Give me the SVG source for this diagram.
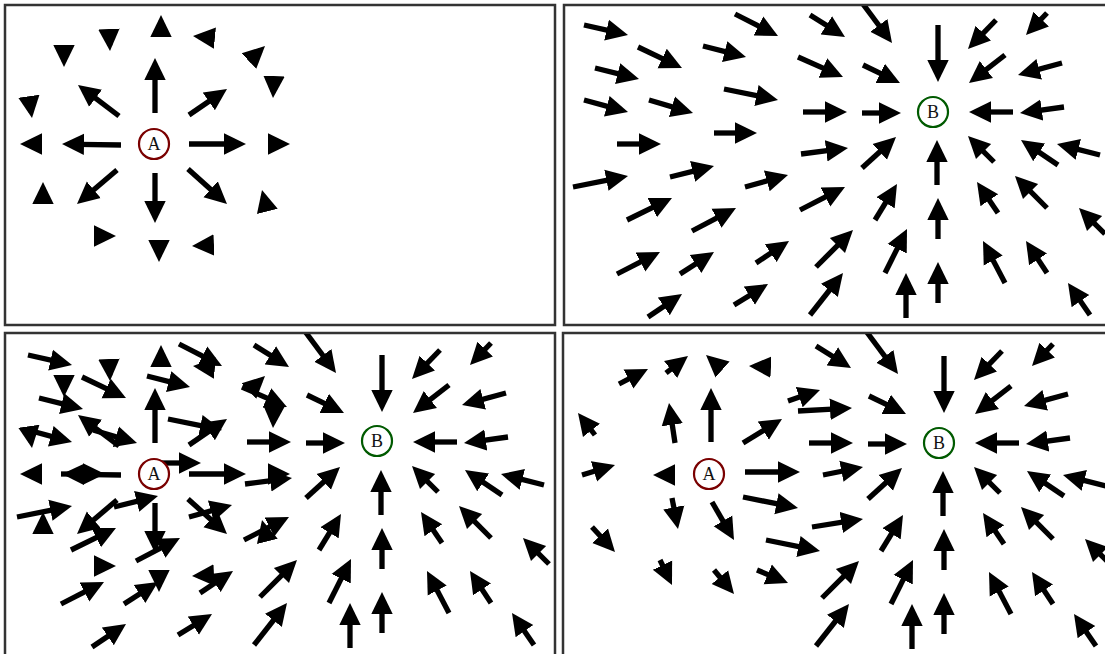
<svg xmlns="http://www.w3.org/2000/svg" xmlns:xlink="http://www.w3.org/1999/xlink" width="1105" height="654" viewBox="0 0 1105 654">
<style>
.a{fill:none;stroke:#000;stroke-width:5.3;stroke-dasharray:72 100;marker-end:url(#h)}
.frame{fill:#fff;stroke:#333;stroke-width:2.5}
.node circle{fill:#fff;stroke-width:2.2}
.node text{font-family:"Liberation Serif",serif;font-size:18px;text-anchor:middle;fill:#111}
</style>
<defs>
<marker id="h" markerUnits="userSpaceOnUse" markerWidth="23" markerHeight="23" viewBox="0 0 23 23" refX="22" refY="11.5" orient="auto"><path d="M0,0.8L22,11.5L0,22.2z" fill="#000" stroke="none"/></marker>
<clipPath id="cTL"><rect x="6" y="6" width="548" height="318"/></clipPath>
<clipPath id="cTR"><rect x="565" y="6" width="540" height="318"/></clipPath>
<clipPath id="cBL"><rect x="6" y="334" width="548" height="320"/></clipPath>
<clipPath id="cBR"><rect x="564" y="334" width="541" height="320"/></clipPath>
<g id="fieldA" class="a">
<path pathLength="100" d="M155 113L155 58"/>
<path pathLength="100" d="M189 115L227 89"/>
<path pathLength="100" d="M189 144L246 144"/>
<path pathLength="100" d="M188 169L227 204"/>
<path pathLength="100" d="M155 173L155 223"/>
<path pathLength="100" d="M117 170L77 204"/>
<path pathLength="100" d="M121 145L62 144"/>
<path pathLength="100" d="M119 116L78 85"/>
<path pathLength="100" d="M161 36L161 15"/>
<path pathLength="100" d="M109 31L110 51"/>
<path pathLength="100" d="M64 46L64 67"/>
<path pathLength="100" d="M214 38L193 36"/>
<path pathLength="100" d="M249 61L265 46"/>
<path pathLength="100" d="M274 77L273 98"/>
<path pathLength="100" d="M29 97L32 118"/>
<path pathLength="100" d="M42 144L20 144"/>
<path pathLength="100" d="M268 144L290 144"/>
<path pathLength="100" d="M43 203L43 182"/>
<path pathLength="100" d="M267 210L262 190"/>
<path pathLength="100" d="M95 236L116 236"/>
<path pathLength="100" d="M159 241L159 262"/>
<path pathLength="100" d="M213 245L192 246"/>
</g>
<g id="fieldBleft" class="a">
<path pathLength="100" d="M584 25L628 35"/>
<path pathLength="100" d="M638 47L682 68"/>
<path pathLength="100" d="M735 14L778 36"/>
<path pathLength="100" d="M703 46L746 57"/>
<path pathLength="100" d="M595 68L639 79"/>
<path pathLength="100" d="M798 57L843 77"/>
<path pathLength="100" d="M584 100L628 112"/>
<path pathLength="100" d="M649 100L693 113"/>
<path pathLength="100" d="M724 89L778 100"/>
<path pathLength="100" d="M617 144L661 144"/>
<path pathLength="100" d="M714 133L757 133"/>
<path pathLength="100" d="M801 154L848 148"/>
<path pathLength="100" d="M573 187L628 176"/>
<path pathLength="100" d="M670 177L714 166"/>
<path pathLength="100" d="M745 187L788 175"/>
<path pathLength="100" d="M800 210L845 187"/>
<path pathLength="100" d="M627 220L672 198"/>
<path pathLength="100" d="M692 231L736 208"/>
<path pathLength="100" d="M617 274L660 252"/>
<path pathLength="100" d="M680 274L714 252"/>
<path pathLength="100" d="M756 263L789 241"/>
<path pathLength="100" d="M648 317L682 294"/>
<path pathLength="100" d="M734 305L768 284"/>
</g>
<g id="fieldBright" class="a">
<path pathLength="100" d="M810 15L845 37"/>
<path pathLength="100" d="M803 112L847 112"/>
<path pathLength="100" d="M816 267L853 230"/>
<path pathLength="100" d="M810 315L843 273"/>
<path pathLength="100" d="M860 0L892 43"/>
<path pathLength="100" d="M938 25L938 82"/>
<path pathLength="100" d="M996 20L968 49"/>
<path pathLength="100" d="M1047 13L1026 35"/>
<path pathLength="100" d="M863 65L900 83"/>
<path pathLength="100" d="M1005 55L969 83"/>
<path pathLength="100" d="M1062 63L1018 75"/>
<path pathLength="100" d="M862 113L901 113"/>
<path pathLength="100" d="M1013 112L969 112"/>
<path pathLength="100" d="M1064 107L1020 113"/>
<path pathLength="100" d="M862 168L896 137"/>
<path pathLength="100" d="M937 185L937 140"/>
<path pathLength="100" d="M994 162L968 136"/>
<path pathLength="100" d="M1058 165L1021 140"/>
<path pathLength="100" d="M1100 155L1057 144"/>
<path pathLength="100" d="M875 220L897 184"/>
<path pathLength="100" d="M938 239L938 198"/>
<path pathLength="100" d="M998 213L977 182"/>
<path pathLength="100" d="M1047 208L1015 176"/>
<path pathLength="100" d="M1105 234L1079 208"/>
<path pathLength="100" d="M885 273L907 229"/>
<path pathLength="100" d="M906 318L906 273"/>
<path pathLength="100" d="M938 303L938 262"/>
<path pathLength="100" d="M1005 283L983 241"/>
<path pathLength="100" d="M1047 273L1026 241"/>
<path pathLength="100" d="M1090 315L1068 283"/>
</g>
</defs>

<g id="frames">
<rect class="frame" x="5" y="5" width="550" height="320"/>
<rect class="frame" x="564" y="5" width="550" height="320"/>
<rect class="frame" x="5" y="333" width="550" height="330"/>
<rect class="frame" x="563" y="333" width="550" height="330"/>
</g>

<g id="connectors">
<g id="panel-tl-arrows" clip-path="url(#cTL)">
<use xlink:href="#fieldA"/>
</g>
<g id="panel-tr-arrows" clip-path="url(#cTR)">
<use xlink:href="#fieldBleft"/>
<use xlink:href="#fieldBright"/>
</g>
<g id="panel-bl-arrows" clip-path="url(#cBL)">
<use xlink:href="#fieldA" transform="translate(0,330)"/>
<use xlink:href="#fieldBleft" transform="translate(-556,330)"/>
<use xlink:href="#fieldBright" transform="translate(-556,330)"/>
</g>
<g id="panel-br-arrows" clip-path="url(#cBR)">
<use xlink:href="#fieldBright" transform="translate(6,331)"/>
<g class="a">
<path pathLength="100" d="M619 384L648 369"/>
<path pathLength="100" d="M666 373L688 356"/>
<path pathLength="100" d="M722 369L706 355"/>
<path pathLength="100" d="M769 367L749 366"/>
<path pathLength="100" d="M711 442L711 388"/>
<path pathLength="100" d="M675 443L669 403"/>
<path pathLength="100" d="M595 435L578 413"/>
<path pathLength="100" d="M743 443L782 419"/>
<path pathLength="100" d="M788 401L820 390"/>
<path pathLength="100" d="M798 411L852 408"/>
<path pathLength="100" d="M823 475L863 467"/>
<path pathLength="100" d="M582 475L615 465"/>
<path pathLength="100" d="M675 475L653 475"/>
<path pathLength="100" d="M745 472L800 472"/>
<path pathLength="100" d="M743 497L798 508"/>
<path pathLength="100" d="M812 527L863 519"/>
<path pathLength="100" d="M672 498L678 529"/>
<path pathLength="100" d="M712 502L734 540"/>
<path pathLength="100" d="M592 527L615 552"/>
<path pathLength="100" d="M766 540L820 551"/>
<path pathLength="100" d="M660 560L672 585"/>
<path pathLength="100" d="M714 570L734 594"/>
<path pathLength="100" d="M757 570L788 583"/>
</g>
</g>
</g>

<g id="node-a-tl" class="node"><circle cx="154" cy="144" r="15" stroke="#7a0000"/><text x="154" y="150">A</text></g>
<g id="node-b-tr" class="node"><circle cx="933" cy="112" r="15" stroke="#005a00"/><text x="933" y="118">B</text></g>
<g id="node-a-bl" class="node"><circle cx="154" cy="474" r="15" stroke="#7a0000"/><text x="154" y="480">A</text></g>
<g id="node-b-bl" class="node"><circle cx="377" cy="441" r="15" stroke="#005a00"/><text x="377" y="447">B</text></g>
<g id="node-a-br" class="node"><circle cx="709" cy="474" r="15" stroke="#7a0000"/><text x="709" y="480">A</text></g>
<g id="node-b-br" class="node"><circle cx="939" cy="443" r="15" stroke="#005a00"/><text x="939" y="449">B</text></g>
</svg>
